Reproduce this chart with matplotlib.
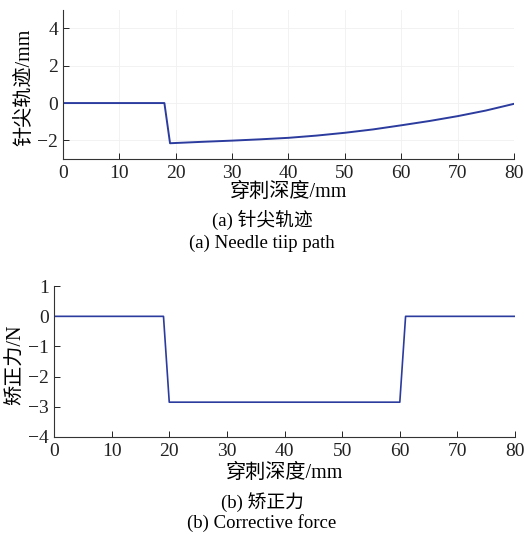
import numpy as np
import matplotlib
matplotlib.use('Agg')
import matplotlib.pyplot as plt

plt.rcParams['font.family'] = ['Liberation Serif', 'Noto Sans CJK SC']
plt.rcParams['axes.unicode_minus'] = True

# (a) needle tip path
depth_a = [0, 18, 19, 22, 25, 30, 35, 40, 45, 50, 55, 60, 65, 70, 75, 80]
path_a = [0, 0, -2.15, -2.11, -2.07, -2.01, -1.94, -1.86, -1.74, -1.59, -1.41, -1.19, -0.96, -0.70, -0.40, -0.04]

# (b) corrective force
depth_b = [0, 19, 20, 60, 61, 80]
force_b = [0, 0, -2.85, -2.85, 0, 0]

line_color = '#2b3b9e'

fig = plt.figure(figsize=(5.24, 5.34), dpi=100)

ax1 = fig.add_axes([0.120, 0.702, 0.861, 0.280])
ax1.plot(depth_a, path_a, color=line_color, lw=1.4)
ax1.set_xlim(0, 80)
ax1.set_ylim(-3, 5)
ax1.set_xticks(range(0, 81, 10))
ax1.set_yticks([-2, 0, 2, 4])
ax1.set_yticklabels(['\u22122', '0', '2', '4'])
ax1.grid(True, color='#f0f0f0', lw=0.6)
ax1.set_xlabel('穿刺深度/mm', fontsize=14.5)
ax1.set_ylabel('针尖轨迹/mm', fontsize=14.5)
ax1.xaxis.set_label_coords(0.5, -0.16)
ax1.yaxis.set_label_coords(-0.064, 0.48)

ax2 = fig.add_axes([0.103, 0.182, 0.880, 0.282])
ax2.plot(depth_b, force_b, color=line_color, lw=1.2)
ax2.set_xlim(0, 80)
ax2.set_ylim(-4, 1)
ax2.set_xticks(range(0, 81, 10))
ax2.set_yticks([-4, -3, -2, -1, 0, 1])
ax2.set_yticklabels(['\u22124', '\u22123', '\u22122', '\u22121', '0', '1'])
ax2.set_xlabel('穿刺深度/mm', fontsize=14.5)
ax2.set_ylabel('矫正力/N', fontsize=14.5)
ax2.xaxis.set_label_coords(0.5, -0.18)
ax2.yaxis.set_label_coords(-0.061, 0.48)

for ax in (ax1, ax2):
    ax.spines['top'].set_visible(False)
    ax.spines['right'].set_visible(False)
    ax.spines['left'].set_color('#333333')
    ax.spines['bottom'].set_color('#333333')
    ax.tick_params(direction='in', length=4, width=0.7, labelsize=14, colors='#222222')
    ax.tick_params(axis='x', pad=4.5)
    ax.tick_params(axis='y', pad=3.5)

fig.text(0.5, 1 - 220 / 534, '(a) 针尖轨迹', ha='center', va='center', fontsize=13.5)
fig.text(0.5, 1 - 243 / 534, '(a) Needle tiip path', ha='center', va='center', fontsize=13.5)
fig.text(0.5, 1 - 502 / 534, '(b) 矫正力', ha='center', va='center', fontsize=13.5)
fig.text(0.5, 1 - 523 / 534, '(b) Corrective force', ha='center', va='center', fontsize=13.5)

fig.savefig('out.png', dpi=100)
